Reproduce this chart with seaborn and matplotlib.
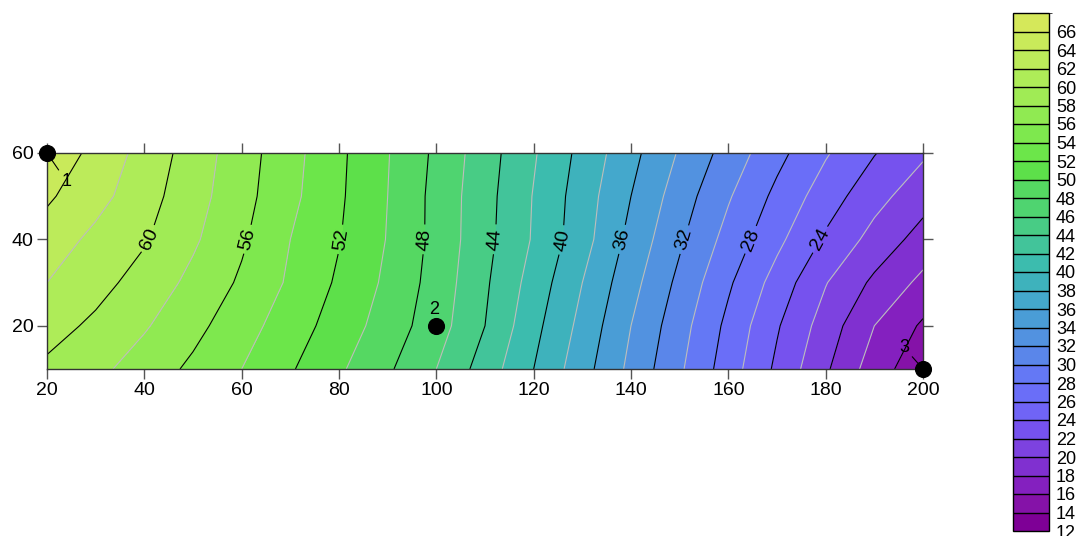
import numpy as np
import matplotlib
matplotlib.use("Agg")
import matplotlib.pyplot as plt
from matplotlib.colors import ListedColormap, BoundaryNorm
import seaborn as sns


# grid (x every 10, y every 10)
x_values = [20, 30, 40, 50, 60, 70, 80, 90, 100, 110,
            120, 130, 140, 150, 160, 170, 180, 190, 200]
y_values = [10, 20, 30, 40, 50, 60]

z_y10 = [59.6, 58.5, 57.1, 55.6, 54.0, 52.2, 50.3, 48.3, 46.0, 43.1,
         40.0, 36.8, 33.5, 30.3, 27.0, 23.6, 20.3, 17.0, 14.6]
z_y20 = [60.8, 59.6, 58.2, 56.6, 54.8, 53.0, 51.1, 49.1, 46.9, 44.0,
         40.6, 37.4, 34.0, 30.8, 27.5, 24.2, 21.1, 18.0, 15.7]
z_y30 = [62.0, 60.7, 59.2, 57.5, 55.7, 53.7, 51.7, 49.6, 47.2, 44.3,
         41.2, 38.0, 34.7, 31.5, 28.3, 25.2, 22.1, 19.6, 17.5]
z_y40 = [63.1, 61.5, 60.2, 58.3, 56.3, 54.0, 52.1, 49.9, 47.4, 44.6,
         41.8, 38.8, 35.4, 32.3, 29.3, 26.5, 23.7, 21.3, 19.2]
z_y50 = [64.3, 62.7, 60.8, 58.8, 56.7, 54.5, 52.3, 50.0, 47.4, 44.7,
         41.9, 39.0, 36.0, 33.0, 30.2, 27.5, 25.0, 22.7, 20.8]
z_y60 = [65.5, 63.4, 61.3, 59.1, 56.9, 54.7, 52.4, 50.1, 47.6, 44.9,
         42.2, 39.4, 36.6, 33.8, 31.2, 28.6, 26.2, 24.1, 22.3]

# sample points
point_x = [20, 100, 200]
point_y = [60, 20, 10]
point_labels = ["1", "2", "3"]

fill_levels = list(range(12, 70, 2))
grey_levels = list(range(18, 68, 4))
plain_black_levels = [16, 20, 64]
label_levels = [24, 28, 32, 36, 40, 44, 48, 52, 56, 60]
label_x = [178.8, 164.4, 150.8, 138.2, 125.4, 112.3, 97.7, 80.4, 61.3, 41.2]

# one colour per band, 12-14 up to 66-68
band_colors = [
    "#7e0096", "#8512a8", "#8420bf", "#8030d0", "#7d42e0", "#7652ee",
    "#7064f6", "#6a6ef8", "#6478f5", "#5a86ea", "#5292e0", "#4a9dd6",
    "#44a8cc", "#3eb2bc", "#3cbcae", "#42c49a", "#48cc85", "#4fd470",
    "#55d862", "#5de04a", "#6ce64a", "#7ee84e", "#90ea52", "#a0eb55",
    "#aeec58", "#bceb5a", "#c9ea5a", "#d5e85a",
]

# label offsets in points, and whether a leader line is drawn
label_offsets = [(14.2, -20.7), (-1.9, 11.5), (-13.7, 15.6)]
label_leader = [True, False, True]

sns.set_style("ticks")
plt.rcParams["font.family"] = ["Liberation Sans", "DejaVu Sans"]
plt.rcParams["text.color"] = "black"
plt.rcParams["xtick.labelcolor"] = "black"
plt.rcParams["ytick.labelcolor"] = "black"

X, Y = np.meshgrid(x_values, y_values)
Z = np.array([z_y10, z_y20, z_y30, z_y40, z_y50, z_y60])

cmap = ListedColormap(band_colors)
norm = BoundaryNorm(fill_levels, cmap.N)

fig = plt.figure(figsize=(10.85, 5.36), dpi=100)
ax = fig.add_axes([47 / 1085, 1 - 369 / 536, 876 / 1085, 216 / 536])
cax = fig.add_axes([1013 / 1085, 5 / 536, 36 / 1085, 518 / 536])

cf = ax.contourf(X, Y, Z, levels=fill_levels, cmap=cmap, norm=norm)
ax.contour(X, Y, Z, levels=grey_levels, colors="#bdbdbd", linewidths=0.8)
ax.contour(X, Y, Z, levels=plain_black_levels, colors="black", linewidths=0.8)
cs = ax.contour(X, Y, Z, levels=label_levels, colors="black", linewidths=0.8)
ax.clabel(cs, manual=[(x, 40) for x in label_x],
          inline=True, inline_spacing=4, fontsize=14, fmt="%d")

sns.scatterplot(x=point_x, y=point_y, color="black", s=130, ax=ax,
                clip_on=False, zorder=6, legend=False, edgecolor="black")
for px, py, lab, off, lead in zip(point_x, point_y, point_labels,
                                  label_offsets, label_leader):
    props = dict(arrowstyle="-", color="black", lw=0.8, shrinkA=0, shrinkB=4) if lead else None
    ax.annotate(lab, (px, py), xytext=off, textcoords="offset points",
                ha="center", va="center", fontsize=13, arrowprops=props,
                annotation_clip=False, zorder=7)

ax.set_xlim(20, 200)
ax.set_ylim(10, 60)
ax.set_xticks(range(20, 201, 20))
ax.set_yticks([20, 40, 60])
ax.tick_params(direction="out", length=7.5, width=1, color="#555555",
               top=True, right=True, labelsize=14, pad=2)
for side in ax.spines.values():
    side.set_visible(True)
    side.set_color("#333333")
    side.set_linewidth(1)

cb = fig.colorbar(cf, cax=cax, ticks=fill_levels[:-1], drawedges=True)
cb.outline.set_edgecolor("black")
cb.outline.set_linewidth(1)
cb.dividers.set_color("black")
cb.dividers.set_linewidth(1)
cax.tick_params(length=0, labelsize=13, pad=5)

fig.savefig("out.png", dpi=100)
plt.close(fig)
